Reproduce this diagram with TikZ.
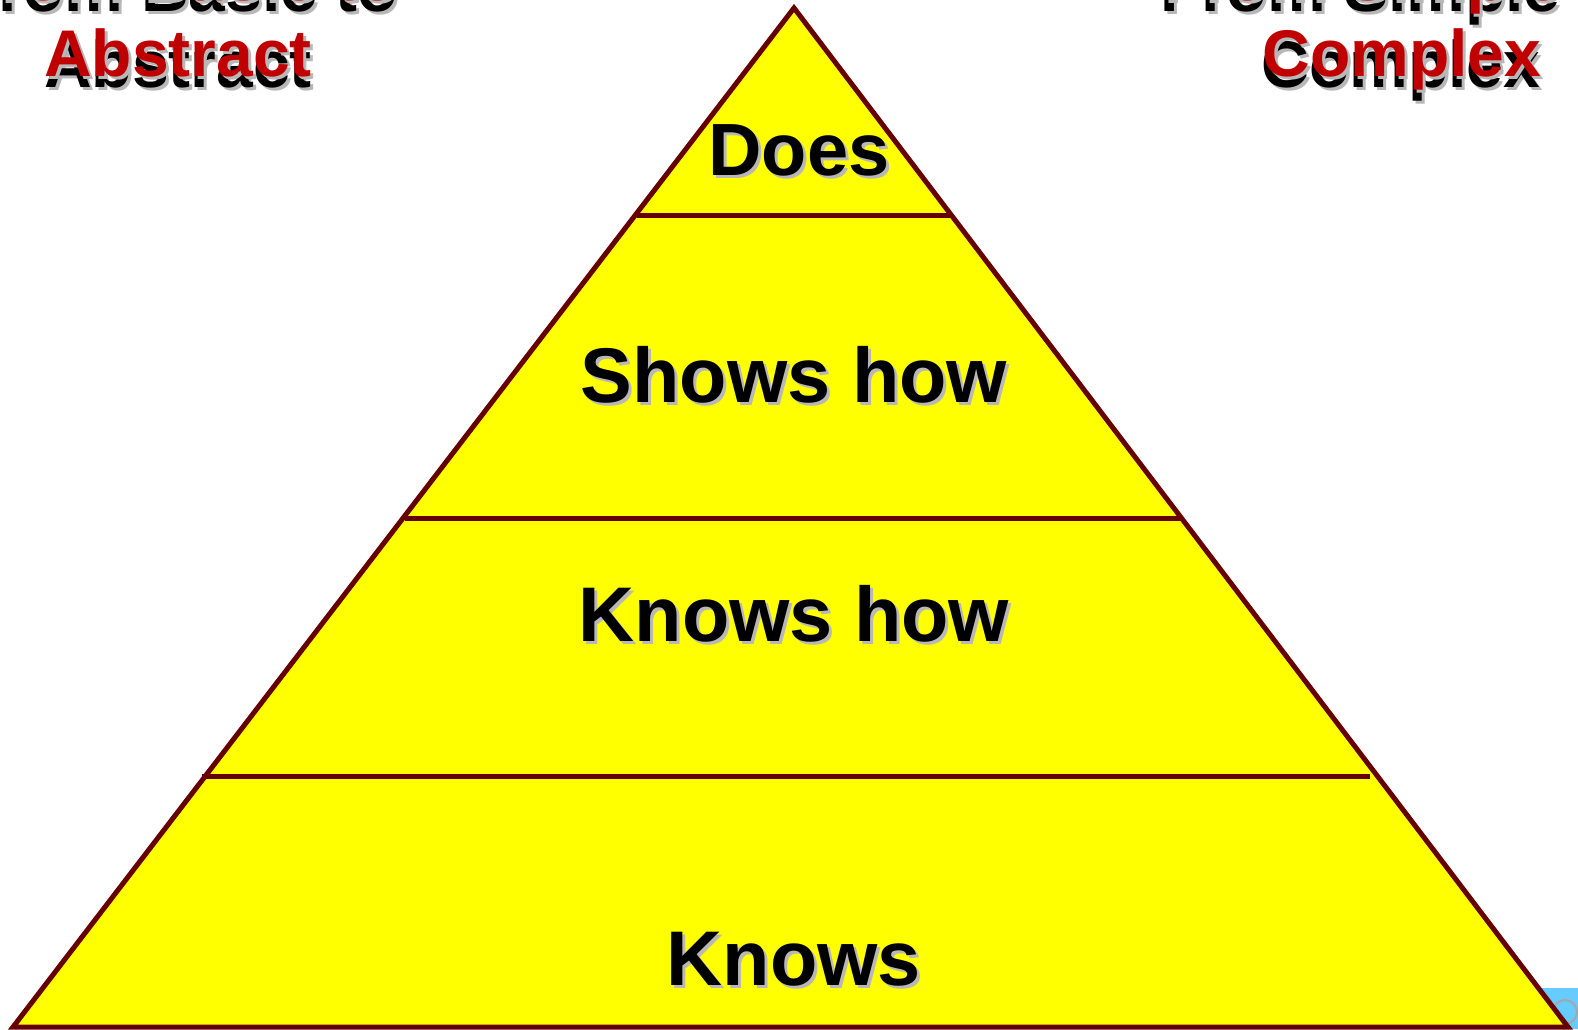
\documentclass[tikz,border=0pt]{standalone}
\usepackage{fontspec}
\setmainfont{Liberation Sans}
\usetikzlibrary{calc}

\definecolor{pyrfill}{RGB}{255,255,0}
\definecolor{pyredge}{RGB}{102,0,0}
\definecolor{pyrshade}{RGB}{184,184,184}
\definecolor{headred}{RGB}{192,0,0}
\definecolor{cornerblue}{RGB}{102,204,255}

\tikzset{
  pyramid/.style={fill=pyrfill, draw=pyredge, line width=5pt, line join=miter},
  band/.style={draw=pyredge, line width=5pt},
  levelfont/.style={font=\fontsize{77.5}{80}\selectfont\bfseries, anchor=base, inner sep=0pt},
  topfont/.style={font=\fontsize{74}{76}\selectfont\bfseries, anchor=base, inner sep=0pt},
  headfont/.style={font=\fontsize{66}{70}\selectfont\bfseries, anchor=base, inner sep=0pt}
}

% text with a grey drop shadow: name, position, style, colour, text
\newcommand{\shadowed}[5]{%
  \node[#3, text=pyrshade] (#1-sh) at ($(#2)+(3,3)$) {#5};
  \node[#3, text=#4] (#1) at (#2) {#5};}

\begin{document}
\begin{tikzpicture}[x=1pt, y=-1pt]
  \clip (0,0) rectangle (1578,1029);
  \fill[white] (0,0) rectangle (1578,1029);

  % corner picture, mostly hidden
  \fill[cornerblue] (1530,988) rectangle (1578,1029);
  \draw[gray!70, line width=2pt] (1565,1012) circle (12);

  % Pyramid
  \coordinate (top) at (794,8);
  \coordinate (bl) at (13,1027);
  \coordinate (br) at (1568,1027);
  \filldraw[pyramid] (top) -- (bl) -- (br) -- cycle;

  % Bands
  \coordinate (does-l) at (637,215);
  \coordinate (does-r) at (950,215);
  \coordinate (shows-l) at (405,518);
  \coordinate (shows-r) at (1182,518);
  \coordinate (knowshow-l) at (202,776);
  \coordinate (knowshow-r) at (1370,776);
  \draw[band] (does-l) -- (does-r);
  \draw[band] (shows-l) -- (shows-r);
  \draw[band] (knowshow-l) -- (knowshow-r);

  % Levels
  \shadowed{does}{799,175}{topfont}{black}{Does}
  \shadowed{showshow}{794,402}{levelfont}{black}{Shows how}
  \shadowed{knowshow}{794,641}{levelfont}{black}{Knows how}
  \shadowed{knows}{794,985}{levelfont}{black}{Knows}

  % Headings, black copy under the red one
  \shadowed{basic-k}{178,11}{headfont}{black}{From Basic to}
  \shadowed{abstract-k}{178,87}{headfont}{black}{Abstract}
  \shadowed{basic}{178,0}{headfont}{headred}{From Basic to}
  \shadowed{abstract}{178,76}{headfont}{headred}{Abstract}

  \shadowed{simple-k}{1401,11}{headfont}{black}{From Simple to}
  \shadowed{complex-k}{1401,87}{headfont}{black}{Complex}
  \shadowed{simple}{1402,0}{headfont}{headred}{From Simple to}
  \shadowed{complex}{1402,76}{headfont}{headred}{Complex}
\end{tikzpicture}
\end{document}
